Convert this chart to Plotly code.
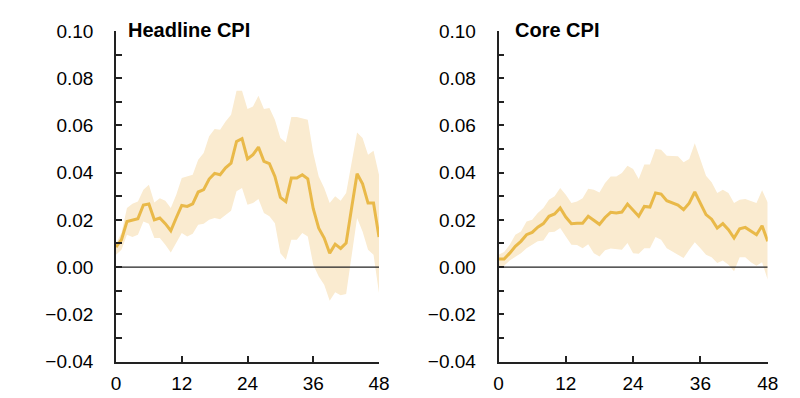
import plotly.graph_objects as go

months = list(range(49))

headline_mid = [0.0085, 0.0116, 0.0193, 0.0200, 0.0205, 0.0263, 0.0267, 0.0200, 0.0208, 0.0184,
                0.0154, 0.0209, 0.0261, 0.0257, 0.0268, 0.0318, 0.0328, 0.0373, 0.0397, 0.0391,
                0.0420, 0.0440, 0.0532, 0.0544, 0.0458, 0.0476, 0.0508, 0.0448, 0.0438, 0.0384,
                0.0295, 0.0277, 0.0377, 0.0377, 0.0391, 0.0374, 0.0247, 0.0165, 0.0123, 0.0059,
                0.0097, 0.0079, 0.0102, 0.0250, 0.0395, 0.0353, 0.0271, 0.0271, 0.0127]
headline_hi = [0.0100, 0.0144, 0.0250, 0.0268, 0.0278, 0.0328, 0.0349, 0.0274, 0.0292, 0.0281,
               0.0250, 0.0306, 0.0377, 0.0384, 0.0391, 0.0455, 0.0483, 0.0554, 0.0585, 0.0582,
               0.0617, 0.0645, 0.0747, 0.0747, 0.0670, 0.0680, 0.0726, 0.0670, 0.0674, 0.0624,
               0.0547, 0.0528, 0.0636, 0.0636, 0.0631, 0.0624, 0.0483, 0.0384, 0.0335, 0.0271,
               0.0300, 0.0281, 0.0314, 0.0440, 0.0570, 0.0547, 0.0476, 0.0493, 0.0391]
headline_lo = [0.0052, 0.0073, 0.0137, 0.0127, 0.0137, 0.0193, 0.0184, 0.0123, 0.0123, 0.0095,
               0.0062, 0.0102, 0.0144, 0.0130, 0.0141, 0.0179, 0.0184, 0.0200, 0.0208, 0.0203,
               0.0222, 0.0239, 0.0321, 0.0335, 0.0264, 0.0271, 0.0288, 0.0229, 0.0215, 0.0186,
               0.0059, 0.0031, 0.0116, 0.0116, 0.0144, 0.0130, 0.0010, -0.0040, -0.0075, -0.0143,
               -0.0107, -0.0119, -0.0114, 0.0045, 0.0208, 0.0151, 0.0073, 0.0052, -0.0110]

core_mid = [0.0034, 0.0034, 0.0059, 0.0088, 0.0109, 0.0137, 0.0147, 0.0169, 0.0184, 0.0215,
            0.0225, 0.0250, 0.0212, 0.0184, 0.0186, 0.0186, 0.0215, 0.0196, 0.0181, 0.0210,
            0.0232, 0.0229, 0.0233, 0.0267, 0.0240, 0.0215, 0.0257, 0.0254, 0.0314, 0.0309,
            0.0281, 0.0271, 0.0263, 0.0243, 0.0271, 0.0318, 0.0271, 0.0222, 0.0203, 0.0165,
            0.0184, 0.0158, 0.0123, 0.0162, 0.0168, 0.0151, 0.0137, 0.0175, 0.0109]
core_hi = [0.0052, 0.0064, 0.0095, 0.0137, 0.0151, 0.0193, 0.0200, 0.0229, 0.0250, 0.0285,
           0.0300, 0.0335, 0.0306, 0.0271, 0.0278, 0.0292, 0.0332, 0.0328, 0.0316, 0.0356,
           0.0384, 0.0384, 0.0398, 0.0429, 0.0415, 0.0373, 0.0434, 0.0434, 0.0500, 0.0497,
           0.0472, 0.0469, 0.0469, 0.0444, 0.0458, 0.0525, 0.0455, 0.0387, 0.0359, 0.0314,
           0.0328, 0.0314, 0.0271, 0.0285, 0.0288, 0.0278, 0.0271, 0.0325, 0.0274]
core_lo = [0.0000, 0.0006, 0.0028, 0.0045, 0.0059, 0.0080, 0.0095, 0.0109, 0.0113, 0.0148,
           0.0150, 0.0165, 0.0130, 0.0095, 0.0093, 0.0080, 0.0097, 0.0059, 0.0045, 0.0071,
           0.0079, 0.0076, 0.0073, 0.0102, 0.0059, 0.0056, 0.0080, 0.0080, 0.0127, 0.0116,
           0.0080, 0.0066, 0.0052, 0.0038, 0.0073, 0.0105, 0.0080, 0.0052, 0.0042, 0.0017,
           0.0028, 0.0010, -0.0018, 0.0042, 0.0042, 0.0020, 0.0006, 0.0020, -0.0054]

panel_titles = ["Headline CPI", "Core CPI"]
x_ticks = [0, 12, 24, 36, 48]
y_ticks = [-0.04, -0.02, 0.00, 0.02, 0.04, 0.06, 0.08, 0.10]

LINE = "#E9B949"
BAND = "#FAEBD0"
FONT = "Liberation Sans, Arial, sans-serif"

# the page body has an 8px margin, so the figure is laid out in a 792x390 box
W, H, OFF = 792, 390, 8

fig = go.Figure()

panels = [(headline_mid, headline_hi, headline_lo, "x", "y"),
          (core_mid, core_hi, core_lo, "x2", "y2")]

for mid, hi, lo, xa, ya in panels:
    fig.add_trace(go.Scatter(x=months, y=hi, mode="lines", line=dict(width=0, color=BAND),
                             xaxis=xa, yaxis=ya, showlegend=False, hoverinfo="skip"))
    fig.add_trace(go.Scatter(x=months, y=lo, mode="lines", line=dict(width=0, color=BAND),
                             fill="tonexty", fillcolor=BAND,
                             xaxis=xa, yaxis=ya, showlegend=False, hoverinfo="skip"))
    fig.add_trace(go.Scatter(x=[months[0], months[-1]], y=[0, 0], mode="lines",
                             line=dict(width=1.2, color="#222222"),
                             xaxis=xa, yaxis=ya, showlegend=False, hoverinfo="skip"))
    fig.add_trace(go.Scatter(x=months, y=mid, mode="lines", line=dict(width=3, color=LINE),
                             xaxis=xa, yaxis=ya, showlegend=False))


def px_x(v):
    return (v - OFF) / W


def px_y(v):
    return 1 - (v - OFF) / H


ydom = [px_y(361.5), px_y(31)]
xdoms = [[px_x(116), px_x(379)], [px_x(498.5), px_x(767.7)]]

common_x = dict(range=[0, 48], tickvals=x_ticks, ticks="inside", ticklen=6, tickwidth=1.5,
                tickcolor="#222", showline=True, linecolor="#222", linewidth=1.5,
                showgrid=False, zeroline=False, ticklabelstandoff=4,
                tickfont=dict(family=FONT, size=19, color="#000"), automargin=False)
common_y = dict(range=[-0.04, 0.10], tickvals=y_ticks, tickformat=".2f", ticks="inside",
                ticklen=6, tickwidth=1.5, tickcolor="#222", showline=True, linecolor="#222",
                linewidth=1.5, showgrid=False, zeroline=False, ticklabelstandoff=17,
                minor=dict(dtick=0.01, tick0=0, ticks="inside", ticklen=6, tickwidth=1.5,
                           tickcolor="#222", showgrid=False),
                tickfont=dict(family=FONT, size=19, color="#000"), domain=ydom, automargin=False)

fig.update_layout(
    width=W, height=H,
    margin=dict(l=0, r=0, t=0, b=0),
    paper_bgcolor="white", plot_bgcolor="white",
    xaxis=dict(common_x, domain=xdoms[0], anchor="y"),
    yaxis=dict(common_y, anchor="x"),
    xaxis2=dict(common_x, domain=xdoms[1], anchor="y2"),
    yaxis2=dict(common_y, anchor="x2"),
    annotations=[
        dict(text="<b>" + panel_titles[0] + "</b>", xref="paper", yref="paper",
             x=px_x(126), y=px_y(17), xanchor="left", yanchor="top", showarrow=False,
             font=dict(family=FONT, size=20, color="#000")),
        dict(text="<b>" + panel_titles[1] + "</b>", xref="paper", yref="paper",
             x=px_x(513), y=px_y(17), xanchor="left", yanchor="top", showarrow=False,
             font=dict(family=FONT, size=20, color="#000")),
    ],
)

fig.write_html("out.html")
